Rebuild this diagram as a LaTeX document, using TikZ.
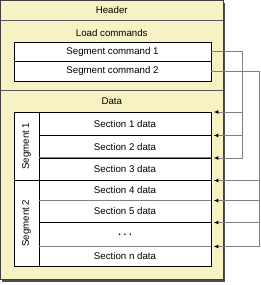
\documentclass[tikz,border=0pt]{standalone}
\usepackage{fontspec}
\setmainfont{Liberation Sans}
\usetikzlibrary{arrows.meta}
\definecolor{paleyellow}{HTML}{F6F2C4}
\definecolor{shadowgray}{HTML}{505050}
\definecolor{wiregray}{HTML}{808080}

\begin{document}
\begin{tikzpicture}[x=1pt,y=-1pt,
        every node/.style={font=\fontsize{9.7}{11}\selectfont, inner sep=0pt},
        cell/.style={draw=black, fill=white, line width=0.7pt, rectangle},
        wire/.style={draw=wiregray, line width=1pt, -{Latex[black,length=5pt,width=4pt]}}]
        \useasboundingbox (0,0) rectangle (261,285);
        % Outer file box with its shadow.
            \fill[shadowgray] (2.5,2.5) rectangle (225.5,281.5);
            \draw[black!75, fill=paleyellow, line width=0.9pt] (0.5,0.5) rectangle (223,279);
            \draw[black!65, line width=0.8pt] (0.5,20) -- (223,20);
            \draw[black!65, line width=0.8pt] (0.5,90) -- (223,90);
        % Below nodes are the labels of the three parts.
            \node (header) at (111.75,10) {Header};
            \node (load) at (111.75,33) {Load commands};
            \node (data) at (111.75,101) {Data};
        % Segment commands.
            \node[cell, minimum width=197, minimum height=19.5] (cmd1) at (112.5,51.75) {Segment command 1};
            \node[cell, minimum width=197, minimum height=19.5] (cmd2) at (112.5,71.25) {Segment command 2};
        % Segments and their sections.
            \node[cell, rotate=90, minimum width=68.5, minimum height=25] (seg1) at (26.5,146.25) {Segment 1};
            \node[cell, rotate=90, minimum width=85.5, minimum height=25] (seg2) at (26.5,223.25) {Segment 2};
            \node[cell, minimum width=172, minimum height=23.5] (sec1) at (125,123.75) {Section 1 data};
            \node[cell, minimum width=172, minimum height=22.5] (sec2) at (125,146.75) {Section 2 data};
            \node[cell, minimum width=172, minimum height=22.5] (sec3) at (125,169.25) {Section 3 data};
            \node[cell, minimum width=172, minimum height=20] (sec4) at (125,190.5) {Section 4 data};
            \node[cell, minimum width=172, minimum height=22] (sec5) at (125,211.5) {Section 5 data};
            \node[cell, minimum width=172, minimum height=24] (sec6) at (125,234.5) {\textbf{.\ .\ .}};
            \node[cell, minimum width=172, minimum height=19.5] (sec7) at (125,256.25) {Section n data};
            \draw[wiregray, line width=0.8pt] (sec3.north west) -- (sec3.north east);
            \draw[wiregray, line width=0.8pt] (sec5.north west) -- (sec5.north east);
            \draw[wiregray, line width=0.8pt] (sec7.north west) -- (sec7.north east);
        % Ends of the links, just right of the sections.
            \coordinate (s1) at (213.5,112);
            \coordinate (s2) at (213.5,135.5);
            \coordinate (s3) at (213.5,158);
            \coordinate (s4) at (213.5,180.5);
            \coordinate (s5) at (213.5,200.5);
            \coordinate (s6) at (213.5,222.5);
            \coordinate (s7) at (213.5,246.5);
            \coordinate (bus1) at (243,0);
            \coordinate (bus2) at (260,0);
        % This draws the links from the commands.
            \draw[wire] (cmd1.east) -| (bus1 |- s3) -- (s3);
            \draw[wire] (bus1 |- s1) -- (s1);
            \draw[wire] (bus1 |- s2) -- (s2);
            \draw[wire] (cmd2.east) -| (bus2 |- s7) -- (s7);
            \draw[wire] (bus2 |- s4) -- (s4);
            \draw[wire] (bus2 |- s5) -- (s5);
            \draw[wire] (bus2 |- s6) -- (s6);
    \end{tikzpicture}
\end{document}
